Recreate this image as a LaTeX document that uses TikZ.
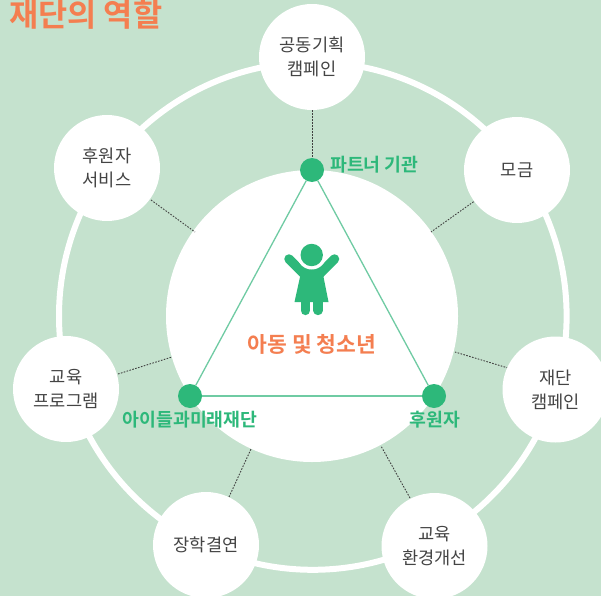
\documentclass[tikz,border=0pt]{standalone}
\usepackage{fontspec}
\setmainfont{Noto Sans CJK KR}
\newfontfamily\krbold{Noto Sans CJK KR Bold}
\definecolor{bgmint}{HTML}{C5E2CE}
\definecolor{dotgreen}{HTML}{2DB87A}
\definecolor{linegreen}{HTML}{6FCBA3}
\definecolor{accent}{HTML}{F47E50}
\definecolor{inktext}{HTML}{444444}
\tikzset{
  x=1pt,y=-1pt,
  topic/.style={circle,fill=white,minimum size=106pt,inner sep=0pt,align=center,font=\fontsize{17.6}{24}\selectfont,text=inktext},
  hub/.style={circle,fill=dotgreen,minimum size=24pt,inner sep=0pt},
  side/.style={line width=1.3pt,draw=linegreen},
  link/.style={line width=0.9pt,draw=black!75,dash pattern=on 1.6pt off 1.4pt},
  greenlabel/.style={font=\krbold\fontsize{18.3}{20}\selectfont,text=dotgreen,inner sep=0pt},
  orangelabel/.style={font=\krbold\fontsize{21.5}{24}\selectfont,text=accent,inner sep=0pt}
}
\begin{document}
\begin{tikzpicture}
\useasboundingbox (0,0) rectangle (601,596);
\clip (0,0) rectangle (601,596);
\fill[bgmint] (0,0) rectangle (601,596);
\node[orangelabel,font=\krbold\fontsize{31.7}{34}\selectfont,anchor=west] (title) at (9,15) {재단의 역할};
\draw[white,line width=6pt] (312.8,316) circle[radius=253.8];
\node[circle,fill=white,minimum size=292pt,inner sep=0pt] (core) at (312,316) {};
\coordinate (c1a) at (312,110); \coordinate (c1b) at (312,170);
\coordinate (c2a) at (151,200); \coordinate (c2b) at (195,232);
\coordinate (c3a) at (476,200); \coordinate (c3b) at (431,232);
\coordinate (c4a) at (118,374); \coordinate (c4b) at (172,357);
\coordinate (c5a) at (508,368); \coordinate (c5b) at (455,352);
\coordinate (c6a) at (229,497); \coordinate (c6b) at (251,449);
\coordinate (c7a) at (410,498); \coordinate (c7b) at (381,446);
\draw[link] (c1a)--(c1b);
\draw[link] (c2a)--(c2b);
\draw[link] (c3a)--(c3b);
\draw[link] (c4a)--(c4b);
\draw[link] (c5a)--(c5b);
\draw[link] (c6a)--(c6b);
\draw[link] (c7a)--(c7b);
\node[topic] (t1) at (312,57) {공동기획\\캠페인};
\node[topic] (t2) at (517,170) {모금};
\node[topic] (t3) at (555.5,389.5) {재단\\캠페인};
\node[topic] (t4) at (434.5,546) {교육\\환경개선};
\node[topic] (t5) at (206,545) {장학결연};
\node[topic] (t6) at (66,389) {교육\\프로그램};
\node[topic] (t7) at (107,168) {후원자\\서비스};
\node[hub] (h1) at (312,170) {};
\node[hub] (h2) at (190,396) {};
\node[hub] (h3) at (434,396) {};
\draw[side] (h1)--(h2);
\draw[side] (h2)--(h3);
\draw[side] (h3)--(h1);
\node[greenlabel,anchor=west] (l1) at (330,165) {파트너 기관};
\node[greenlabel,anchor=center] (l2) at (190,420) {아이들과미래재단};
\node[greenlabel,anchor=center] (l3) at (435,420) {후원자};
\node[orangelabel,anchor=center] (l0) at (312,344) {아동 및 청소년};
% child figure
\draw[dotgreen,line width=9.5pt,line cap=round] (289,259) -- (306,276);
\draw[dotgreen,line width=9.5pt,line cap=round] (334.5,259) -- (317.5,276);
\fill[dotgreen] (300,264) -- (323.5,264) -- (323.5,277) -- (328.5,302) -- (294.5,302) -- (300,277) -- cycle;
\fill[white] (311.7,255) circle[radius=14.5];
\fill[dotgreen] (311.7,255) circle[radius=11.2];
\draw[dotgreen,line width=9.3pt,line cap=round] (305.3,300) -- (305.3,310.5);
\draw[dotgreen,line width=9.3pt,line cap=round] (318,300) -- (318,310.5);
\end{tikzpicture}
\end{document}
